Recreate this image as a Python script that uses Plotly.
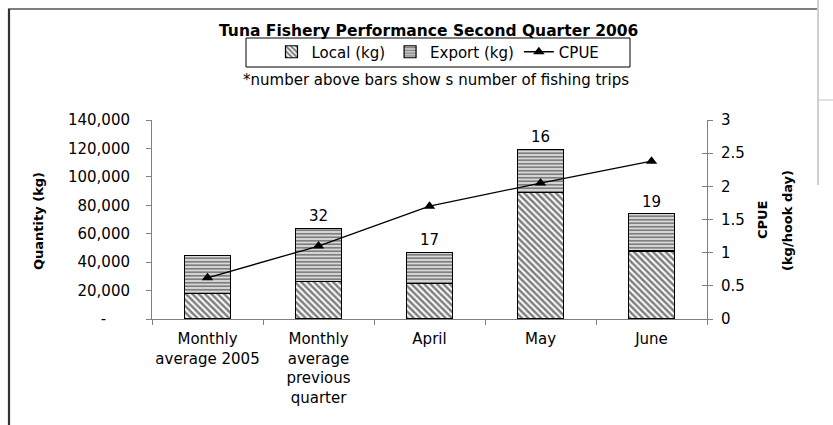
import plotly.graph_objects as go

categories = ["Monthly<br>average 2005", "Monthly<br>average<br>previous<br>quarter", "April", "May", "June"]
local_kg = [18000, 26200, 24800, 89000, 47800]
export_kg = [26500, 37600, 22100, 30400, 26300]
cpue = [0.62, 1.10, 1.70, 2.05, 2.38]
trips = ["", "32", "17", "16", "19"]

W, H = 833, 425
L, R, T, B = 152, 707, 120, 319  # plot area pixels

def px(x):
    return (x - L) / (R - L)

def py(y):
    return (B - y) / (B - T)

FONT = "DejaVu Sans, Verdana, sans-serif"
AX = "#808080"

fig = go.Figure()
fig.add_trace(go.Bar(
    x=categories, y=local_kg, name="Local (kg)",
    marker=dict(color="white", line=dict(color="black", width=1.2),
                pattern=dict(shape="\\", fgcolor="black", bgcolor="white", size=4.5, solidity=0.55)),
))
fig.add_trace(go.Bar(
    x=categories, y=export_kg, name="Export (kg)",
    marker=dict(color="white", line=dict(color="black", width=1.2),
                pattern=dict(shape="-", fgcolor="black", bgcolor="white", size=3.5, solidity=0.65)),
    text=trips, textposition="outside", cliponaxis=False,
    textfont=dict(family=FONT, size=15, color="black"),
))
fig.add_trace(go.Scatter(
    x=categories, y=cpue, name="CPUE", yaxis="y2", mode="lines+markers",
    line=dict(color="black", width=1.3),
    marker=dict(symbol="triangle-up", size=10, color="black"),
))
fig.add_trace(go.Scatter(x=categories[:1], y=[None], yaxis="y3", showlegend=False, hoverinfo="skip"))

left_ticks = [0, 20000, 40000, 60000, 80000, 100000, 120000, 140000]
left_text = ["-     "] + [f"{v:,}" for v in left_ticks[1:]]

shapes = [
    dict(type="line", xref="paper", yref="paper", x0=px(8), x1=px(817), y0=py(9), y1=py(9),
         line=dict(color="black", width=1.2)),
    dict(type="line", xref="paper", yref="paper", x0=px(9), x1=px(9), y0=py(9), y1=py(430),
         line=dict(color="#333333", width=2.2)),
    dict(type="line", xref="paper", yref="paper", x0=px(818), x1=px(818), y0=py(-5), y1=py(185),
         line=dict(color="#a0a0a0", width=1)),
    dict(type="line", xref="paper", yref="paper", x0=px(818), x1=px(840), y0=py(100), y1=py(100),
         line=dict(color="#c0c0c0", width=1)),
    dict(type="rect", xref="paper", yref="paper", x0=px(246), x1=px(630), y0=py(38), y1=py(67),
         line=dict(color="black", width=1), fillcolor="rgba(0,0,0,0)"),
]

annotations = [
    dict(text="<b>Tuna Fishery Performance Second Quarter 2006</b>", x=px(428), y=py(31),
         xref="paper", yref="paper", showarrow=False, xanchor="center", yanchor="middle",
         font=dict(family=FONT, size=15.5, color="black")),
    dict(text="*number above bars show s number of fishing trips", x=px(436), y=py(80),
         xref="paper", yref="paper", showarrow=False, xanchor="center", yanchor="middle",
         font=dict(family=FONT, size=15, color="black")),
    dict(text="<b>Quantity (kg)</b>", x=px(38), y=py(221), textangle=-90, xanchor="center", yanchor="middle",
         xref="paper", yref="paper", showarrow=False, font=dict(family=FONT, size=13, color="black")),
    dict(text="<b>CPUE</b>", x=px(762), y=py(220), textangle=-90, xanchor="center", yanchor="middle",
         xref="paper", yref="paper", showarrow=False, font=dict(family=FONT, size=13, color="black")),
    dict(text="<b>(kg/hook day)</b>", x=px(787), y=py(221), textangle=-90, xanchor="center", yanchor="middle",
         xref="paper", yref="paper", showarrow=False, font=dict(family=FONT, size=13, color="black")),
]

fig.update_layout(
    width=W, height=H, autosize=False,
    margin=dict(l=L, r=W - R, t=T, b=H - B, pad=0, autoexpand=False),
    paper_bgcolor="white", plot_bgcolor="white",
    barmode="stack", bargap=0.59,
    font=dict(family=FONT, size=15, color="black"),
    showlegend=True,
    legend=dict(orientation="h", x=px(438), y=py(52), xanchor="center", yanchor="middle",
                traceorder="normal",
                font=dict(family=FONT, size=15, color="black"), bgcolor="rgba(0,0,0,0)",
                itemwidth=30, tracegroupgap=0),
    xaxis=dict(showline=True, linecolor=AX, linewidth=1, ticks="outside", ticklen=5, tickcolor=AX,
               tickson="boundaries", showgrid=False, tickfont=dict(size=15), ticklabelstandoff=6,
               tickangle=0, automargin=False),
    yaxis=dict(range=[0, 140000], tickvals=left_ticks, ticktext=left_text, showline=True,
               linecolor=AX, ticks="outside", ticklen=5, tickcolor=AX, showgrid=False,
               zeroline=False, tickfont=dict(size=15), ticklabelstandoff=13, automargin=False),
    yaxis2=dict(range=[0, 3], dtick=0.5, overlaying="y", side="right", showline=True,
                linecolor=AX, ticks="outside", ticklen=5, tickcolor=AX, showgrid=False,
                zeroline=False, tickfont=dict(size=15), ticklabelstandoff=5, automargin=False),
    yaxis3=dict(range=[0, 3], dtick=0.5, overlaying="y", side="right", anchor="x", showline=False,
                ticks="inside", ticklen=5, tickcolor=AX, showgrid=False, showticklabels=False,
                zeroline=False, automargin=False),
    shapes=shapes, annotations=annotations,
)

fig.write_html("out.html", config={"displayModeBar": False},
               post_script="document.body.style.margin='0';")
